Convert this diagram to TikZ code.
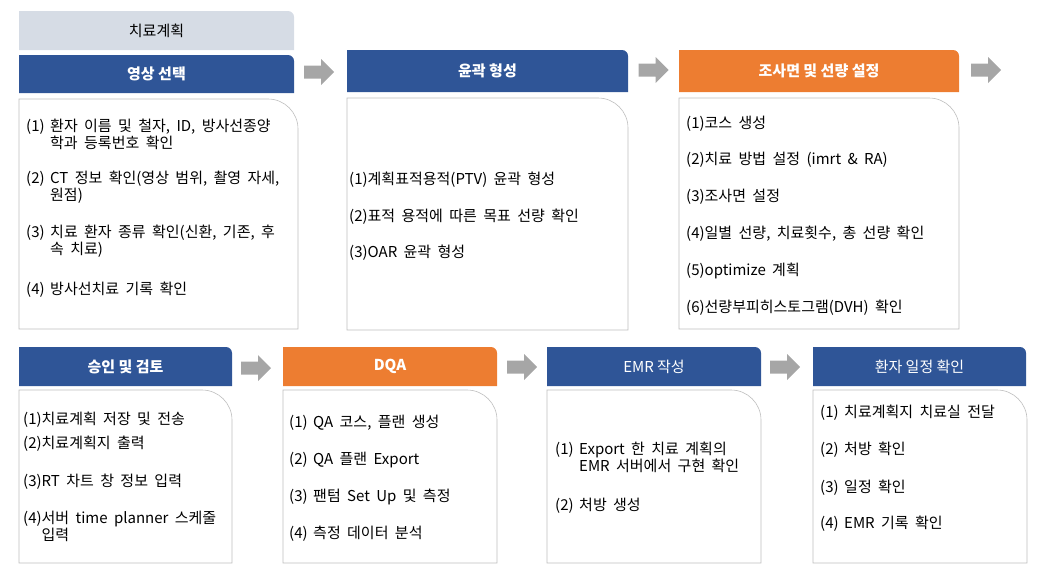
\documentclass[tikz,border=0pt]{standalone}
\usepackage{fontspec}
\setmainfont{Noto Sans CJK KR}[WordSpace=1.9]
\newfontfamily\hdrfamily{Noto Sans CJK KR}
\definecolor{planblue}{HTML}{2F5597}
\definecolor{planorange}{HTML}{ED7D31}
\definecolor{titlegray}{HTML}{D6DCE5}
\definecolor{arrowgray}{HTML}{A6A6A6}
\definecolor{boxline}{HTML}{BFBFBF}
\newcommand{\numsp}[1]{\makebox[24pt][l]{(#1)}}
\newcommand{\itmfont}{\fontsize{15}{17.5}\selectfont\setlength{\lineskiplimit}{-20pt}}

\begin{document}
\begin{tikzpicture}[x=1pt,y=-1pt]
        \tikzset{hdr/.style = {text=white, font=\hdrfamily\fontsize{15}{17}\selectfont\bfseries}}
        \tikzset{hdrlight/.style = {text=white, font=\hdrfamily\fontsize{15}{17}\selectfont}}
        \tikzset{itm/.style = {anchor=base west, align=left, inner sep=0pt, font=\itmfont}}
        \tikzset{blockarrow/.pic = {\fill[arrowgray] (-15,-6.5) -- (2,-6.5) -- (2,-13) -- (15,0) -- (2,13) -- (2,6.5) -- (-15,6.5) -- cycle;}}
        \tikzset{bodybox/.style = {draw=boxline, fill=white, line width=0.6pt}}

        \useasboundingbox (0,0) rectangle (1054,576);

        % title
        \fill[titlegray] (19,50) -- (19,11) [rounded corners=6pt] -- (294,11) [sharp corners] -- (294,50) -- cycle;
        \node[font=\hdrfamily\fontsize{15}{17}\selectfont] (title) at (156.5,30.5) {치료계획};

        % row 1 headers
        \fill[planblue] (19,93) -- (19,55) [rounded corners=6pt] -- (294,55) [sharp corners] -- (294,93) -- cycle;
        \node[hdr] (h1) at (156.5,74) {영상 선택};
        \fill[planblue] (347,92) -- (347,50) [rounded corners=6pt] -- (628,50) [sharp corners] -- (628,92) -- cycle;
        \node[hdr] (h2) at (487.5,71) {윤곽 형성};
        \fill[planorange] (679,92) -- (679,50) [rounded corners=6pt] -- (959,50) [sharp corners] -- (959,92) -- cycle;
        \node[hdr] (h3) at (819,71) {조사면 및 선량 설정};

        % row 1 boxes
        \draw[bodybox] (19,329) -- (19,99) [rounded corners=30pt] -- (298,99) [sharp corners] -- (298,329) -- cycle;
        \draw[bodybox] (347,330) -- (347,98) [rounded corners=30pt] -- (628,98) [sharp corners] -- (628,330) -- cycle;
        \draw[bodybox] (679,329) -- (679,98) [rounded corners=30pt] -- (959,98) [sharp corners] -- (959,329) -- cycle;

        % row 1 arrows
        \pic (a1) at (319,72) {blockarrow};
        \pic (a2) at (653.5,70) {blockarrow};
        \pic (a3) at (986,70) {blockarrow};

        % image selection
        \node[itm] (b1i1) at (26,148.5) {\numsp{1}환자 이름 및 철자, ID, 방사선종양\\\hspace*{24pt}학과 등록번호 확인};
        \node[itm] (b1i2) at (26,200.5) {\numsp{2}CT 정보 확인(영상 범위, 촬영 자세,\\\hspace*{24pt}원점)};
        \node[itm] (b1i3) at (26,254.5) {\numsp{3}치료 환자 종류 확인(신환, 기존, 후\\\hspace*{24pt}속 치료)};
        \node[itm] (b1i4) at (26,294) {\numsp{4}방사선치료 기록 확인};

        % contouring
        \node[itm] (b2i1) at (349,184) {(1)계획표적용적(PTV) 윤곽 형성};
        \node[itm] (b2i2) at (349,221) {(2)표적 용적에 따른 목표 선량 확인};
        \node[itm] (b2i3) at (349,257) {(3)OAR 윤곽 형성};

        % fields and dose
        \node[itm] (b3i1) at (686,128) {(1)코스 생성};
        \node[itm] (b3i2) at (686,164) {(2)치료 방법 설정 (imrt \& RA)};
        \node[itm] (b3i3) at (686,201) {(3)조사면 설정};
        \node[itm] (b3i4) at (686,238) {(4)일별 선량, 치료횟수, 총 선량 확인};
        \node[itm] (b3i5) at (686,275) {(5)optimize 계획};
        \node[itm] (b3i6) at (686,312) {(6)선량부피히스토그램(DVH) 확인};

        % row 2 headers
        \fill[planblue] (19,386) -- (19,347) [rounded corners=6pt] -- (232,347) [sharp corners] -- (232,386) -- cycle;
        \node[hdr] (h4) at (125.5,366.5) {승인 및 검토};
        \fill[planorange] (283,386) -- (283,347) [rounded corners=6pt] -- (497,347) [sharp corners] -- (497,386) -- cycle;
        \node[hdr] (h5) at (390,366.5) {DQA};
        \fill[planblue] (547,386) -- (547,347) [rounded corners=6pt] -- (761,347) [sharp corners] -- (761,386) -- cycle;
        \node[hdrlight] (h6) at (654,366.5) {EMR 작성};
        \fill[planblue] (813,386) -- (813,347) [rounded corners=6pt] -- (1026,347) [sharp corners] -- (1026,386) -- cycle;
        \node[hdrlight] (h7) at (919.5,366.5) {환자 일정 확인};

        % row 2 boxes
        \draw[bodybox] (19,563) -- (19,390) [rounded corners=30pt] -- (232,390) [sharp corners] -- (232,563) -- cycle;
        \draw[bodybox] (283,563) -- (283,390) [rounded corners=30pt] -- (497,390) [sharp corners] -- (497,563) -- cycle;
        \draw[bodybox] (547,563) -- (547,390) [rounded corners=30pt] -- (761,390) [sharp corners] -- (761,563) -- cycle;
        \draw[bodybox] (813,563) -- (813,390) [rounded corners=30pt] -- (1027,390) [sharp corners] -- (1027,563) -- cycle;

        % row 2 arrows
        \pic (a4) at (256,368) {blockarrow};
        \pic (a5) at (522,367) {blockarrow};
        \pic (a6) at (785,367) {blockarrow};

        % approval
        \node[itm] (b4i1) at (23,424) {(1)치료계획 저장 및 전송};
        \node[itm] (b4i2) at (23,448) {(2)치료계획지 출력};
        \node[itm] (b4i3) at (23,486) {(3)RT 차트 창 정보 입력};
        \node[itm] (b4i4) at (23,540.5) {(4)서버 time planner 스케줄\\\phantom{(4)}입력};

        % DQA
        \node[itm] (b5i1) at (289,427) {\numsp{1}QA 코스, 플랜 생성};
        \node[itm] (b5i2) at (289,464) {\numsp{2}QA 플랜 Export};
        \node[itm] (b5i3) at (289,501) {\numsp{3}팬텀 Set Up 및 측정};
        \node[itm] (b5i4) at (289,538) {\numsp{4}측정 데이터 분석};

        % EMR
        \node[itm] (b6i1) at (555,471.5) {\numsp{1}Export 한 치료 계획의\\\hspace*{24pt}EMR 서버에서 구현 확인};
        \node[itm] (b6i2) at (555,510) {\numsp{2}처방 생성};

        % schedule
        \node[itm] (b7i1) at (820,417) {\numsp{1}치료계획지 치료실 전달};
        \node[itm] (b7i2) at (820,454) {\numsp{2}처방 확인};
        \node[itm] (b7i3) at (820,492) {\numsp{3}일정 확인};
        \node[itm] (b7i4) at (820,528) {\numsp{4}EMR 기록 확인};

\end{tikzpicture}
\end{document}
